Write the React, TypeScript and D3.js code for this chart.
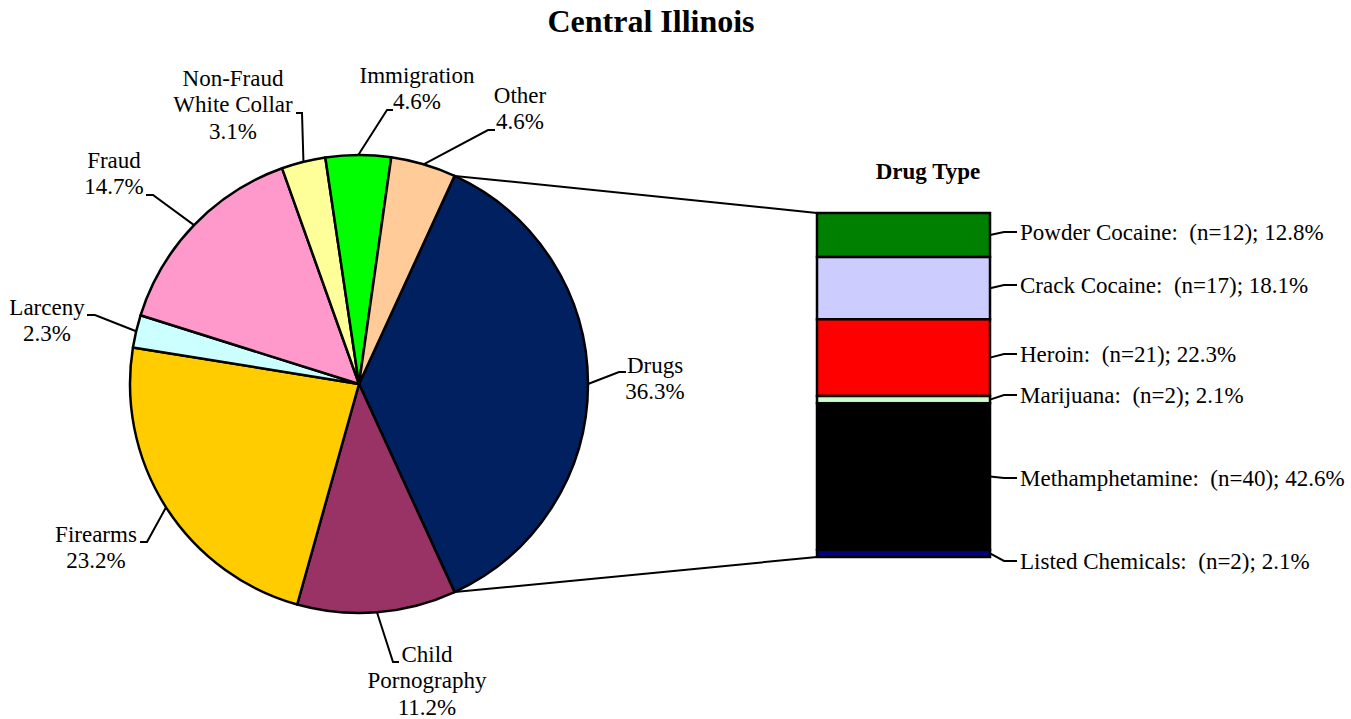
import * as d3 from "d3";

// pie categories, clockwise starting with Drugs
const categories = ["Drugs", "Child Pornography", "Firearms", "Larceny", "Fraud", "Non-Fraud White Collar", "Immigration", "Other"];
const shares = [36.3, 11.2, 23.2, 2.3, 14.7, 3.1, 4.6, 4.6];
const pieColors = ["#00205F", "#993366", "#FFCC00", "#CCFFFF", "#FF99CC", "#FFFF99", "#00FF00", "#FFCC99"];
const labelLines = [
  ["Drugs", "36.3%"],
  ["Child", "Pornography", "11.2%"],
  ["Firearms", "23.2%"],
  ["Larceny", "2.3%"],
  ["Fraud", "14.7%"],
  ["Non-Fraud", "White Collar", "3.1%"],
  ["Immigration", "4.6%"],
  ["Other", "4.6%"],
];

// drug type breakdown, top to bottom
const drugTypes = ["Powder Cocaine", "Crack Cocaine", "Heroin", "Marijuana", "Methamphetamine", "Listed Chemicals"];
const drugCounts = [12, 17, 21, 2, 40, 2];
const drugShares = [12.8, 18.1, 22.3, 2.1, 42.6, 2.1];
const drugColors = ["#008000", "#CCCCFF", "#FF0000", "#CCFFCC", "#000000", "#000080"];

// label placement (where excel put them)
const pieLabelPos = [
  { tx: 655, ty: 373, ex: 619, ey: 372, sx: 626 },
  { tx: 427, ty: 662, ex: 393, ey: 662, sx: 399 },
  { tx: 96, ty: 542, ex: 147, ey: 542, sx: 140 },
  { tx: 47, ty: 315, ex: 95, ey: 315, sx: 87 },
  { tx: 114, ty: 168, ex: 153, ey: 195, sx: 146 },
  { tx: 233, ty: 86, ex: 302, ey: 113, sx: 296 },
  { tx: 417, ty: 83, ex: 387, ey: 110, sx: 393 },
  { tx: 520, ty: 103, ex: 488, ey: 130, sx: 495 },
];
const barLabelY = [232, 285, 354, 395, 478, 561];

const W = 1351;
const H = 719;
const FONT = '"Liberation Serif", "Times New Roman", Times, serif';
const LINE_H = 26.3;

export default function App() {
  const cx = 359;
  const cy = 384;
  const r = 229;

  // drugs slice is centered on the right side
  const start = Math.PI / 2 - Math.PI * (shares[0] / 100);
  const pie = d3.pie<number>().sort(null).value(d => d).startAngle(start).endAngle(start + 2 * Math.PI);
  const arcs = pie(shares);
  const arc = d3.arc<d3.PieArcDatum<number>>().innerRadius(0).outerRadius(r);

  const pt = (a: number, rad: number) => [cx + rad * Math.sin(a), cy - rad * Math.cos(a)];

  // stacked bar
  const barX0 = 817;
  const barX1 = 990;
  const y = d3.scaleLinear().domain([0, d3.sum(drugShares)]).range([213, 557]);
  const cum = [0, ...Array.from(d3.cumsum(drugShares))];

  const topLink = pt(arcs[0].startAngle, r);
  const botLink = pt(arcs[0].endAngle, r);

  const txt = { fontFamily: FONT, fontSize: 23 } as const;

  return (
    <svg width={W} height={H} style={{ position: "absolute", left: 0, top: 0, background: "#fff", fontFamily: FONT }}>
      <text x={651} y={32} textAnchor="middle" style={{ fontFamily: FONT, fontSize: 32, fontWeight: "bold" }}>Central Illinois</text>

      {/* pie */}
      <g transform={`translate(${cx},${cy})`}>
        {arcs.map((a, i) => (
          <path key={categories[i]} d={arc(a) || ""} fill={pieColors[i]} stroke="#000" strokeWidth={2.5} strokeLinejoin="round" />
        ))}
      </g>

      {/* pie labels */}
      {arcs.map((a, i) => {
        const mid = (a.startAngle + a.endAngle) / 2;
        const [mx, my] = pt(mid, r);
        const p = pieLabelPos[i];
        return (
          <g key={"lbl" + i}>
            <polyline points={`${mx},${my} ${p.ex},${p.ey} ${p.sx},${p.ey}`} fill="none" stroke="#000" strokeWidth={2} />
            {labelLines[i].map((t, j) => (
              <text key={j} x={p.tx} y={p.ty + j * LINE_H} textAnchor="middle" style={txt}>{t}</text>
            ))}
          </g>
        );
      })}

      {/* connector lines */}
      <line x1={topLink[0]} y1={topLink[1]} x2={barX0} y2={y(0)} stroke="#000" strokeWidth={2} />
      <line x1={botLink[0]} y1={botLink[1]} x2={barX0} y2={y(100)} stroke="#000" strokeWidth={2} />

      {/* drug type bar */}
      <text x={928} y={179} textAnchor="middle" style={{ fontFamily: FONT, fontSize: 23, fontWeight: "bold" }}>Drug Type</text>
      {drugShares.map((v, i) => (
        <rect key={drugTypes[i]} x={barX0} y={y(cum[i])} width={barX1 - barX0} height={y(cum[i + 1]) - y(cum[i])}
          fill={drugColors[i]} stroke="#000" strokeWidth={2.5} />
      ))}
      {drugShares.map((v, i) => {
        const mid = (y(cum[i]) + y(cum[i + 1])) / 2;
        const ly = barLabelY[i];
        return (
          <g key={"bl" + i}>
            <polyline points={`${barX1},${mid} ${barX1 + 14},${ly} ${barX1 + 27},${ly}`} fill="none" stroke="#000" strokeWidth={2} />
            <text x={barX1 + 30} y={ly + 8} style={{ ...txt, whiteSpace: "pre" }}>
              {`${drugTypes[i]}:  (n=${drugCounts[i]}); ${v}%`}
            </text>
          </g>
        );
      })}
    </svg>
  );
}
